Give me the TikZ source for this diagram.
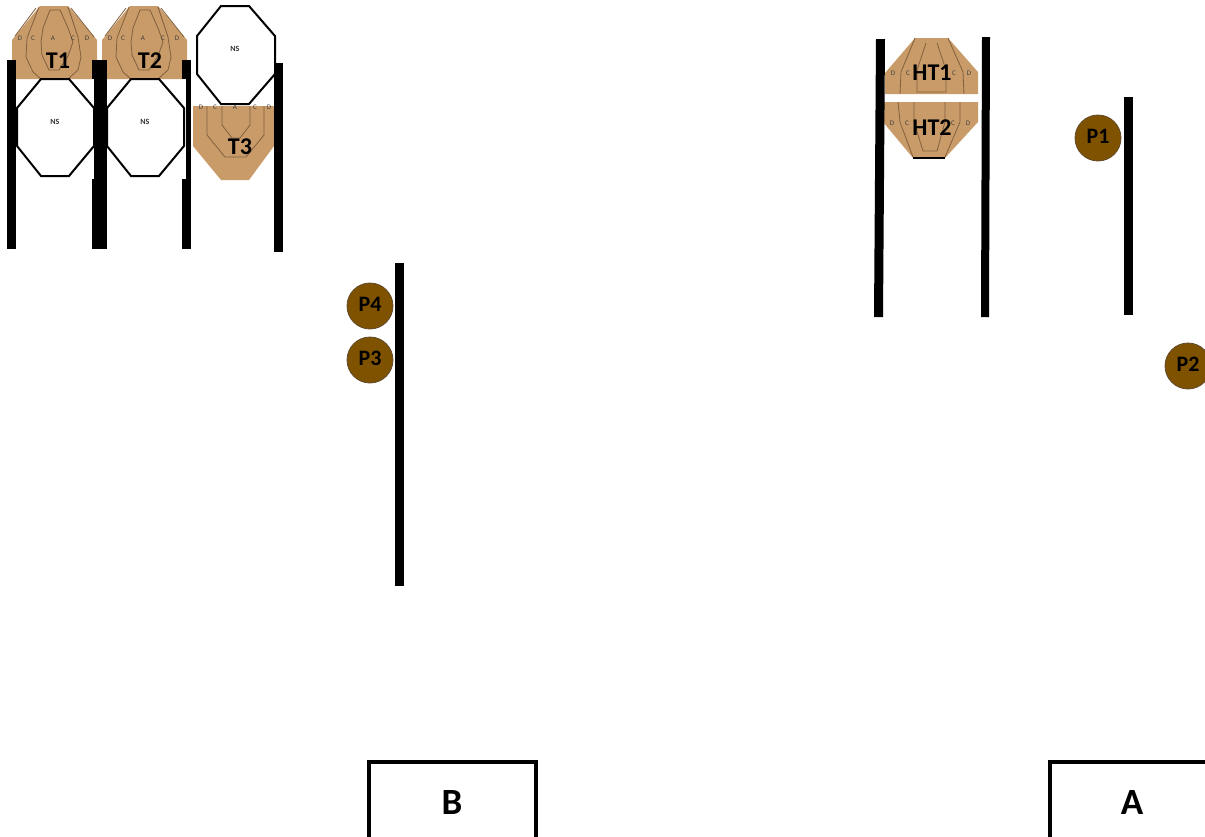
\documentclass[tikz,border=0pt]{standalone}
\usepackage{fontspec}
\setmainfont{Carlito}
\usepackage{xcolor}
\definecolor{cardboard}{HTML}{C99B68}
\definecolor{scoreline}{HTML}{80603E}
\definecolor{popper}{HTML}{7F5200}
\definecolor{popperline}{HTML}{5F4A2C}
\usetikzlibrary{positioning}
\newcommand{\bigfont}[1]{\fontsize{#1}{#1}\selectfont\bfseries}

\begin{document}
\begin{tikzpicture}[
    x=1pt, y=-1pt,
    target/.style={fill=cardboard, draw=none},
    zone/.style={draw=scoreline, line width=0.8pt},
    noshoot/.style={fill=white, draw=black, line width=2pt},
    wall/.style={fill=black, draw=none},
    popcircle/.style={circle, fill=popper, draw=popperline, line width=0.8pt, minimum size=46pt, inner sep=0pt, text depth=4pt, font=\bigfont{22}},
    targetname/.style={inner sep=0pt, font=\bigfont{24}},
    zoneletter/.style={inner sep=0pt, text=black!75, font=\fontsize{7}{7}\selectfont},
    nsletter/.style={inner sep=0pt, text=black!80, font=\fontsize{8}{8}\selectfont\bfseries},
    startbox/.style={draw=black, line width=4.5pt},
    startname/.style={inner sep=0pt, font=\bigfont{37}}
]
\clip (0,0) rectangle (1205,836);

% Upper targets T1 and T2
\foreach \dx/\tname in {0/T1, 90/T2} {
    \begin{scope}[xshift=\dx]
        \fill[target] (40,6) -- (68,6) -- (97,40) -- (97,79) -- (12,79) -- (12,40) -- cycle;
        \draw[zone] (50,10) -- (60,10) -- (68,28) -- (73,42) -- (68,56) -- (59,70) -- (49,70) -- (42,55) -- (41,42) -- (43,28) -- cycle;
        \draw[zone] (39,7) -- (27,38) -- (26,57) -- (33,72) -- (41,79);
        \draw[zone] (68,7) -- (78,37) -- (81,57) -- (78,70) -- (68,79);
        \draw[zone] (36,8) -- (15,36);
        \draw[zone] (71,8) -- (94,37);
        \node[zoneletter] (\tname d1) at (20,38) {D};
        \node[zoneletter] (\tname c1) at (33,38) {C};
        \node[zoneletter] (\tname a) at (53,38) {A};
        \node[zoneletter] (\tname c2) at (73,38) {C};
        \node[zoneletter] (\tname d2) at (87,38) {D};
        % No shoot below it
        \draw[noshoot] (41,79) -- (69,79) -- (94,108) -- (94,146) -- (69,176) -- (41,176) -- (17,146) -- (17,108) -- cycle;
        \node[nsletter] (\tname ns) at (55,122) {NS};
    \end{scope}
}

% T3 with its no shoot
\draw[noshoot] (221,6) -- (249,6) -- (275,36) -- (275,74) -- (249,104) -- (221,104) -- (197,74) -- (197,36) -- cycle;
\node[nsletter] (t3ns) at (235,49) {NS};
\fill[target] (193,106) -- (274,106) -- (274,146) -- (249,180) -- (221,180) -- (193,146) -- cycle;
\draw[zone] (222,106) -- (222,125) -- (232,138) -- (240,138) -- (250,125) -- (250,106);
\draw[zone] (207,106) -- (207,135) -- (225,157) -- (246,157) -- (264,135) -- (264,106);
\node[zoneletter] (t3d1) at (201,107) {D};
\node[zoneletter] (t3c1) at (215,107) {C};
\node[zoneletter] (t3a) at (235,107) {A};
\node[zoneletter] (t3c2) at (255,107) {C};
\node[zoneletter] (t3d2) at (269,107) {D};

% Walls round T1, T2, T3
\fill[wall] (7,60) rectangle (16,249);
\fill[wall] (92,60) rectangle (107,79);
\fill[wall] (94,79) rectangle (107,179);
\fill[wall] (92,179) rectangle (107,249);
\fill[wall] (182,60) rectangle (191,79);
\fill[wall] (186,79) rectangle (191,179);
\fill[wall] (182,179) rectangle (191,249);
\fill[wall] (274,63) rectangle (283,252);

\node[targetname] (t1) at (58,61) {T1};
\node[targetname] (t2) at (150,61) {T2};
\node[targetname] (t3) at (240,147) {T3};

% Hard cover targets
\fill[target] (915,38) -- (948,38) -- (978,72) -- (978,94) -- (885,94) -- (885,73) -- cycle;
\draw[zone] (926,43) -- (917,70) -- (917,92) -- (946,92) -- (946,70) -- (937,43);
\draw[zone] (915,38) -- (901,72) -- (900,94);
\draw[zone] (948,38) -- (963,72) -- (964,94);
\fill[target] (883,102) -- (978,102) -- (978,122) -- (945,158) -- (913,158) -- (883,122) -- cycle;
\draw[zone] (914,102) -- (914,122) -- (923,151) -- (937,151) -- (945,122) -- (945,102);
\draw[zone] (898,102) -- (900,122) -- (913,157);
\draw[zone] (960,102) -- (960,122) -- (945,157);
\draw[black, line width=1.4pt] (913,158) -- (945,158);
\node[zoneletter] (ht1d1) at (893,73) {D};
\node[zoneletter] (ht1c1) at (908,73) {C};
\node[zoneletter] (ht1c2) at (954,73) {C};
\node[zoneletter] (ht1d2) at (969,73) {D};
\node[zoneletter] (ht2d1) at (892,123) {D};
\node[zoneletter] (ht2c1) at (907,123) {C};
\node[zoneletter] (ht2c2) at (953,123) {C};
\node[zoneletter] (ht2d2) at (968,123) {D};

% Walls round the hard covers and P1
\fill[wall] (876,39) -- (885,39) -- (883,317) -- (874,317) -- cycle;
\fill[wall] (982,37) -- (990,37) -- (989,317) -- (981,317) -- cycle;
\fill[wall] (1124,97) rectangle (1133,315);
\fill[wall] (395,263) rectangle (404,586);

\node[targetname] (ht1) at (932,73) {HT1};
\node[targetname] (ht2) at (932,128) {HT2};

% Poppers
\node[popcircle] (p1) at (1098,138) {P1};
\node[popcircle] (p2) at (1188,366) {P2};
\node[popcircle] (p4) at (370,306) {P4};
\node[popcircle] (p3) at (370,360) {P3};

% Start boxes
\draw[startbox] (369,762) rectangle (536,870);
\draw[startbox] (1050,762) rectangle (1280,870);
\node[startname] (b) at (452,802) {B};
\node[startname] (a) at (1132,802) {A};

\end{tikzpicture}
\end{document}
